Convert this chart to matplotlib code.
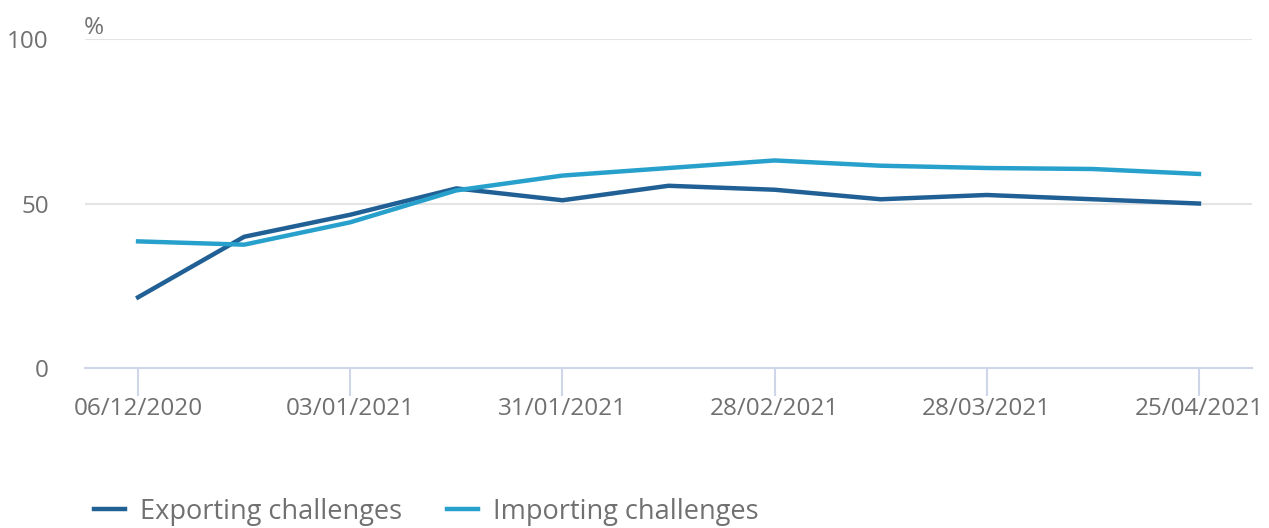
import matplotlib

matplotlib.use("Agg")
import matplotlib.dates as mdates
import matplotlib.pyplot as plt
import pandas as pd

# fortnightly survey periods
dates = pd.date_range("2020-12-06", "2021-04-25", freq="14D")
exporting = [21.5, 39.9, 46.6, 54.6, 51.0, 55.4, 54.2, 51.3, 52.6, 51.3, 50.0]
importing = [38.5, 37.5, 44.3, 54.0, 58.5, 60.8, 63.1, 61.5, 60.8, 60.5, 59.0]
tick_dates = pd.date_range("2020-12-06", "2021-04-25", freq="28D")
y_ticks = [0, 50, 100]

DARK = "#206095"
LIGHT = "#27a0cc"
TEXT = "#707070"
AXIS = "#cfd6ea"

plt.rcParams["font.family"] = ["Open Sans", "DejaVu Sans"]

fig = plt.figure(figsize=(12.69, 5.28), dpi=100)
ax = fig.add_axes([0.067, 0.303, 0.9196, 0.623])

ax.plot(dates, exporting, color=DARK, lw=3.2, label="Exporting challenges")
ax.plot(dates, importing, color=LIGHT, lw=3.2, label="Importing challenges")

ax.set_ylim(0, 100)
ax.set_xlim(dates[0] - pd.Timedelta(days=7), dates[-1] + pd.Timedelta(days=7))
ax.set_yticks(y_ticks)
ax.set_xticks(tick_dates)
ax.xaxis.set_major_formatter(mdates.DateFormatter("%d/%m/%Y"))

ax.grid(axis="y", color="#e4e4e4", lw=1.5)
ax.set_axisbelow(True)
for side in ["top", "right", "left"]:
    ax.spines[side].set_visible(False)
ax.spines["bottom"].set_color(AXIS)
ax.spines["bottom"].set_linewidth(1.5)
ax.tick_params(axis="x", colors=AXIS, length=20, width=1.5, labelcolor=TEXT, labelsize=17.5, pad=1)
ax.tick_params(axis="y", length=0, labelcolor=TEXT, labelsize=17.5, pad=26)
for lab in ax.get_yticklabels():
    lab.set_verticalalignment("center_baseline")

fig.text(0.066, 0.935, "%", color=TEXT, fontsize=17.5)

fig.legend(loc="lower left", bbox_to_anchor=(0.055, -0.042), ncol=2, frameon=False,
           fontsize=19.5, labelcolor=TEXT, handlelength=1.15, handletextpad=0.55, columnspacing=1.65)

fig.savefig("out.png", dpi=100)
